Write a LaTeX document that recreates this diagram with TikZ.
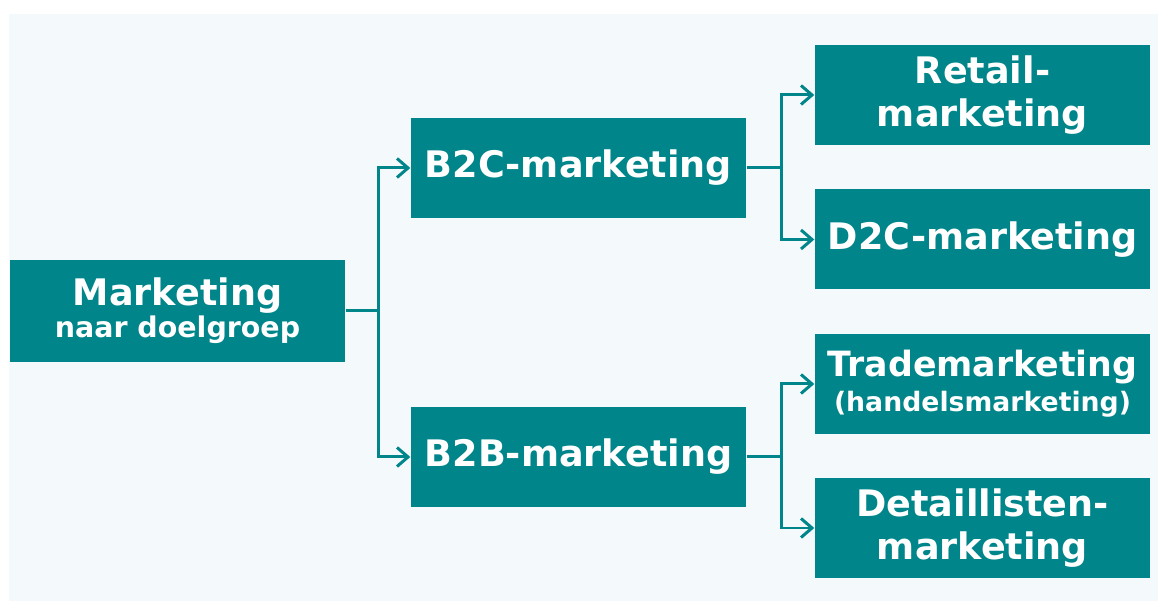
\documentclass[tikz,border=0pt]{standalone}
\usepackage{fontspec}
\setmainfont{DejaVu Sans}
\usetikzlibrary{arrows.meta}

\definecolor{tealbox}{RGB}{0,133,138}
\definecolor{panel}{RGB}{244,249,252}

\tikzset{
  box/.style={fill=tealbox, text=white, font=\bfseries\fontsize{10.4}{12}\selectfont,
    minimum width=3.35cm, minimum height=1.0cm, inner sep=0pt, align=center},
  link/.style={draw=tealbox, line width=0.85pt, -{Straight Barb[length=1.1mm,width=1.9mm]}}
}

\begin{document}
\begin{tikzpicture}

\useasboundingbox (0,0) rectangle (11.58,6.01);
\fill[white] (0,0) rectangle (11.58,6.01);
\fill[panel] (0.09,0) rectangle (11.58,5.87);

\node[box, minimum height=1.02cm] (mkt) at (1.775,2.90) {Marketing\\[-3pt]{\fontsize{8.1}{10}\selectfont naar doelgroep}};

\node[box] (b2c) at (5.785,4.33) {B2C-marketing};
\node[box] (b2b) at (5.785,1.44) {B2B-marketing};

\node[box] (retail) at (9.825,5.06)  {Retail-\\marketing};
\node[box] (d2c)    at (9.825,3.615) {D2C-marketing};
\node[box] (trade)  at (9.825,2.17)  {{\fontsize{9.9}{12}\selectfont Trademarketing}\\[-2pt]{\fontsize{7.6}{9}\selectfont (handelsmarketing)}};
\node[box] (detail) at (9.825,0.73)  {Detaillisten-\\marketing};

\draw[link] (mkt.east) -- ++(0.33,0) |- (b2c.west);
\draw[link] (mkt.east) -- ++(0.33,0) |- (b2b.west);

\draw[link] (b2c.east) -- ++(0.35,0) |- (retail.west);
\draw[link] (b2c.east) -- ++(0.35,0) |- (d2c.west);
\draw[link] (b2b.east) -- ++(0.35,0) |- (trade.west);
\draw[link] (b2b.east) -- ++(0.35,0) |- (detail.west);

\end{tikzpicture}
\end{document}
